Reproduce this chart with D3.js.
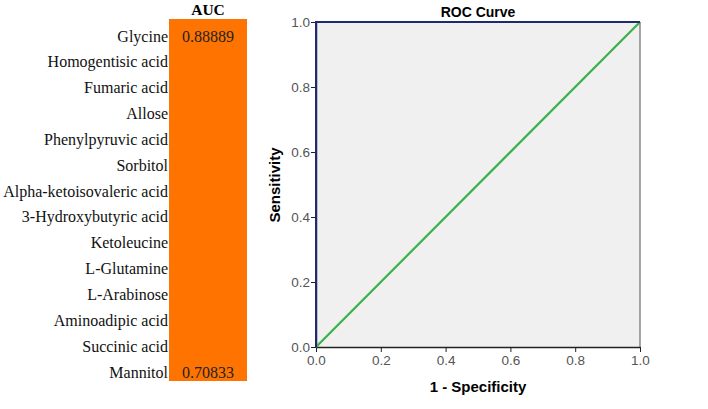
<!DOCTYPE html>
<html><head><meta charset="utf-8">
<script src="https://cdn.jsdelivr.net/npm/d3@7"></script>
<style>body{margin:0;background:#fff}</style>
</head><body>
<svg id="c" width="708" height="409"></svg>
<script>
const metabolites = ["Glycine","Homogentisic acid","Fumaric acid","Allose","Phenylpyruvic acid","Sorbitol","Alpha-ketoisovaleric acid","3-Hydroxybutyric acid","Ketoleucine","L-Glutamine","L-Arabinose","Aminoadipic acid","Succinic acid","Mannitol"];
const aucValues = [0.88889,null,null,null,null,null,null,null,null,null,null,null,null,0.70833];
const rocX = [0,0,1];
const rocY = [0,1,1];
const refX = [0,1];
const refY = [0,1];
const ticks = [0,0.2,0.4,0.6,0.8,1.0];

const svg = d3.select("#c");

// Table
const tbl = svg.append("g");
const rowY = d3.scalePoint().domain(metabolites).range([36,372]);
tbl.append("rect").attr("x",169).attr("y",19).attr("width",78).attr("height",362).attr("fill","#FF7400");
tbl.append("text").attr("x",208).attr("y",15).attr("text-anchor","middle")
  .attr("font-family","Liberation Serif").attr("font-weight","bold").attr("font-size",15.5).text("AUC");
metabolites.forEach((m,i)=>{
  const cy = rowY(m);
  tbl.append("text").attr("x",168).attr("y",cy+5.5).attr("text-anchor","end")
    .attr("font-family","Liberation Serif").attr("font-size",16).attr("fill","#111").text(m);
  if(aucValues[i]!=null){
    tbl.append("text").attr("x",208).attr("y",cy+5.5).attr("text-anchor","middle")
      .attr("font-family","Liberation Serif").attr("font-size",16).attr("fill","#222").text(aucValues[i].toFixed(5));
  }
});

// ROC plot
const x0=316,x1=640,y0=347,y1=22;
const x = d3.scaleLinear().domain([0,1]).range([x0,x1]);
const y = d3.scaleLinear().domain([0,1]).range([y0,y1]);
const g = svg.append("g");
g.append("rect").attr("x",x0).attr("y",y1).attr("width",x1-x0).attr("height",y0-y1).attr("fill","#F0F0F0");
g.append("line").attr("x1",x1).attr("x2",x1).attr("y1",y1).attr("y2",y0).attr("stroke","#888").attr("stroke-width",1.5);

const xa = g.append("g").attr("transform",`translate(0,${y0})`).call(d3.axisBottom(x).tickValues(ticks).tickFormat(d3.format(".1f")).tickSize(5).tickPadding(2).tickSizeOuter(0));
const ya = g.append("g").attr("transform",`translate(${x0},0)`).call(d3.axisLeft(y).tickValues(ticks).tickFormat(d3.format(".1f")).tickSize(5).tickPadding(1).tickSizeOuter(0));
[xa,ya].forEach(a=>{
  a.select(".domain").attr("stroke","#222").attr("stroke-width",1.5);
  a.selectAll(".tick line").attr("stroke","#222");
  a.selectAll(".tick text").attr("font-family","Liberation Sans").attr("font-size",13.5).attr("fill","#555");
});
xa.selectAll(".tick text").attr("dy","0.85em");

const line = d3.line().x(d=>x(d[0])).y(d=>y(d[1]));
g.append("path").datum(refX.map((v,i)=>[v,refY[i]])).attr("d",line).attr("fill","none").attr("stroke","#3DB049").attr("stroke-width",2.2);
g.append("path").datum(rocX.map((v,i)=>[v,rocY[i]])).attr("d",line).attr("fill","none").attr("stroke","#1F2B6E").attr("stroke-width",2);

g.append("text").attr("x",478).attr("y",17).attr("text-anchor","middle").attr("font-family","Liberation Sans").attr("font-weight","bold").attr("font-size",14).text("ROC Curve");
g.append("text").attr("x",478).attr("y",392).attr("text-anchor","middle").attr("font-family","Liberation Sans").attr("font-weight","bold").attr("font-size",15).text("1 - Specificity");
g.append("text").attr("transform",`translate(280,185) rotate(-90)`).attr("text-anchor","middle").attr("font-family","Liberation Sans").attr("font-weight","bold").attr("font-size",15).text("Sensitivity");
</script>
</body></html>
